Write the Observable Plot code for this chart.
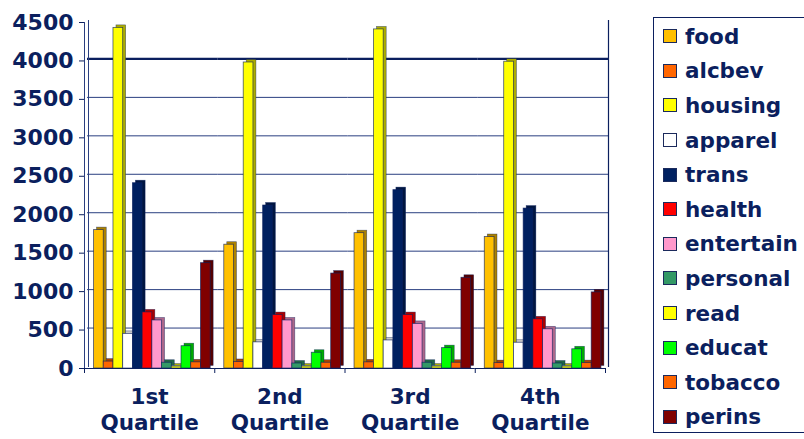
<!DOCTYPE html>
<html>
<head>
<meta charset="utf-8">
<script src="https://cdn.jsdelivr.net/npm/d3@7"></script>
<script src="https://cdn.jsdelivr.net/npm/@observablehq/plot@0.6"></script>
<style>
  body { margin: 0; background: #fff; }
  #wrap { position: relative; width: 804px; height: 439px; overflow: hidden; font-family: "DejaVu Sans", Verdana, sans-serif; }
  #legend { position: absolute; left: 653px; top: 17px; width: 160px; height: 416px; box-sizing: border-box;
            border: 1.5px solid #0b1f5e; padding-top: 1px; }
  .item { height: 34.6px; display: flex; align-items: center; }
  .sw { width: 14px; height: 14px; margin-left: 9px; margin-right: 8px; box-sizing: border-box; border: 1px solid #1b2a5c; }
  .lab { font-size: 21.5px; font-weight: bold; color: #0b1f5e; white-space: nowrap; }
</style>
</head>
<body>
<div id="wrap"><div id="chart"></div><div id="legend"></div></div>
<script>
// Household spending by income quartile, one bar per budget category
const quartiles = ["1st", "2nd", "3rd", "4th"];
const series = ["food", "alcbev", "housing", "apparel", "trans", "health",
                "entertain", "personal", "read", "educat", "tobacco", "perins"];
const colors = ["#ffc000", "#ff6600", "#ffff00", "#ffffff", "#002060", "#ff0000",
                "#ff99cc", "#339966", "#ffff00", "#00ff00", "#ff6600", "#800000"];

// values per category, in quartile order
const food      = [1800, 1610, 1760, 1710];
const alcbev    = [90, 85, 80, 70];
const housing   = [4430, 3980, 4410, 3990];
const apparel   = [450, 340, 365, 335];
const trans     = [2410, 2120, 2320, 2080];
const health    = [730, 695, 695, 640];
const entertain = [625, 625, 580, 510];
const personal  = [75, 65, 75, 65];
const read      = [25, 25, 25, 25];
const educat    = [290, 205, 265, 250];
const tobacco   = [80, 75, 75, 70];
const perins    = [1370, 1235, 1180, 990];

const yTicks = [0, 500, 1000, 1500, 2000, 2500, 3000, 3500, 4000, 4500];

const valuesBySeries = {food, alcbev, housing, apparel, trans, health,
                        entertain, personal, read, educat, tobacco, perins};

const rows = quartiles.flatMap((q, qi) => series.map((s, si) => ({
  quartile: q, series: s, value: valuesBySeries[s][qi], color: colors[si]
})));

const navy = "#0b1f5e";
const W = 804, H = 439, mL = 84, mR = 199, mT = 22, mB = 71;
const halfBand = (W - mL - mR) / quartiles.length / 2;

// side/top faces give the bars a shallow extruded look
const depthX = 3, depthY = -2.5;
const shade = c => c === "#ffffff" ? "#c8c8c8" : d3.color(c).darker(1.1).formatHex();

const chart = Plot.plot({
  width: W, height: H,
  marginLeft: mL, marginRight: mR, marginTop: mT, marginBottom: mB,
  style: {fontFamily: "DejaVu Sans, Verdana, sans-serif", background: "white", overflow: "visible"},
  fx: {domain: quartiles, padding: 0, axis: null, round: false},
  x: {domain: series, paddingInner: 0, paddingOuter: 0.7, align: 0.7, round: false, axis: null},
  y: {domain: [0, 4500], axis: null},
  color: {type: "identity"},
  marks: [
    // back-wall gridlines
    Plot.ruleY(yTicks.filter(v => v > 0 && v < 4000), {stroke: "#2a3f80", strokeWidth: 1, dx: depthX, dy: -2}),
    Plot.ruleY([4000], {stroke: navy, strokeWidth: 2.2, dx: depthX, dy: -2}),
    // wall edges
    Plot.frame({anchor: "left", facet: "super", stroke: "#2a3f80", strokeWidth: 1}),
    Plot.frame({anchor: "left", facet: "super", stroke: "#2a3f80", strokeWidth: 1, dx: 4, dy: -2}),
    Plot.frame({anchor: "right", facet: "super", stroke: navy, strokeWidth: 1.2, dx: depthX, dy: -2}),
    // bar depth faces
    Plot.barY(rows, {fx: "quartile", x: "series", y: "value", fill: d => shade(d.color),
                     stroke: navy, strokeWidth: 0.6, strokeOpacity: 0.6, dx: depthX, dy: depthY}),
    // bar fronts
    Plot.barY(rows, {fx: "quartile", x: "series", y: "value", fill: "color",
                     stroke: navy, strokeWidth: 0.8, strokeOpacity: 0.75}),
    Plot.ruleY([0], {stroke: navy, strokeWidth: 1.2}),
    Plot.axisY({ticks: yTicks, tickSize: 5, tickPadding: 6, fontSize: 22, fontWeight: "bold",
                color: navy, label: null, tickFormat: d => String(d)}),
    // category boundary ticks
    Plot.axisFx({anchor: "bottom", tickSize: 5, tickFormat: () => "", dx: -halfBand, color: navy, label: null}),
    Plot.axisFx({anchor: "bottom", ticks: [quartiles[quartiles.length - 1]], tickSize: 5,
                 tickFormat: () => "", dx: halfBand, color: navy, label: null}),
    // category labels
    Plot.axisFx({anchor: "bottom", tickSize: 0, tickPadding: 17, fontSize: 21.5, fontWeight: "bold",
                 lineHeight: 1.2, color: navy, label: null, tickFormat: q => `${q}\nQuartile`})
  ]
});
document.getElementById("chart").append(chart);

// legend
const legend = d3.select("#legend");
series.forEach((s, i) => {
  const item = legend.append("div").attr("class", "item");
  item.append("div").attr("class", "sw").style("background", colors[i]);
  item.append("div").attr("class", "lab").text(s);
});
</script>
</body>
</html>
